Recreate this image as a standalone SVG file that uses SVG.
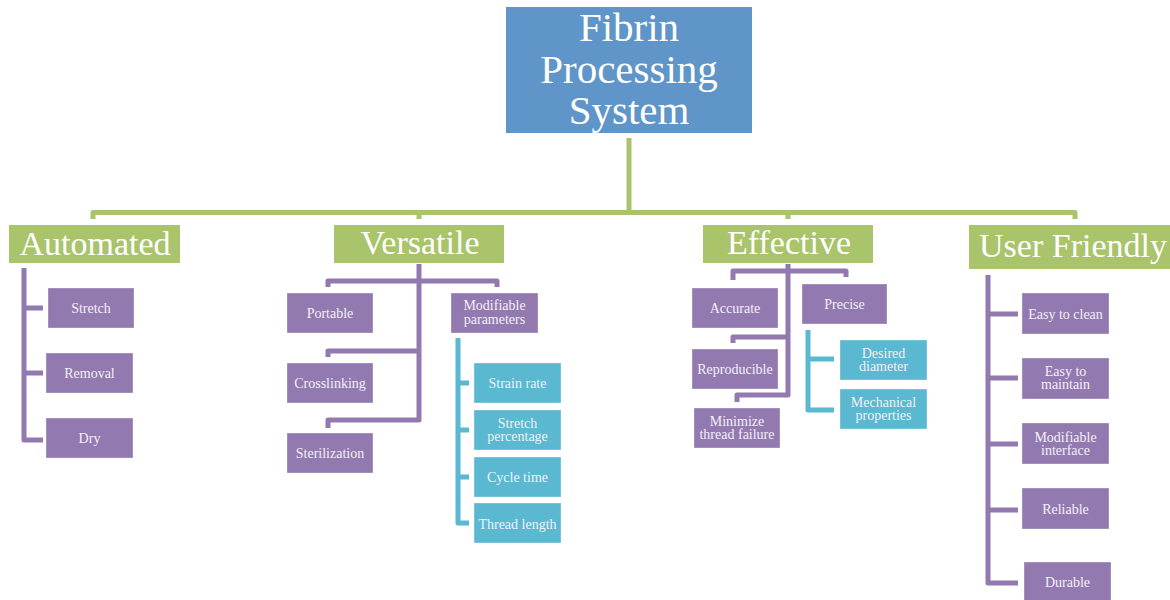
<svg xmlns="http://www.w3.org/2000/svg" width="1170" height="600" viewBox="0 0 1170 600">
<style>
text{font-family:"Liberation Serif","Times New Roman",serif;fill:#ffffff;text-anchor:middle}
.root{fill:#5f95c8}
.hdr{fill:#a9c46b}
.pur{fill:#9279b0;stroke:#ffffff;stroke-opacity:0.35;stroke-width:1}
.cy{fill:#5bb8d1;stroke:#ffffff;stroke-opacity:0.35;stroke-width:1}
.t1{font-size:41px}
.t2{font-size:34px}
.t3{font-size:14px;fill:#f3f0f7}
.cg{fill:none;stroke:#a9c46b;stroke-width:5;stroke-linejoin:round}
.cp{fill:none;stroke:#9279b0;stroke-width:5;stroke-linejoin:round}
.cc{fill:none;stroke:#5bb8d1;stroke-width:5;stroke-linejoin:round}
</style>
<g id="connectors">
<path class="cg" d="M629 138V212.5M93 219V212.5H1075V219M419 212.5V219M788 212.5V219"/>
<path class="cp" d="M24 268V440H43M24 308H43M24 373H43"/>
<path class="cp" d="M328 287V281H497V287M419 264V420H328V428M419 351H328V357"/>
<path class="cc" d="M458 338V523H469M458 383H469M458 430H469M458 477H469"/>
<path class="cp" d="M733 280V271H846V277M788 264V395H737V402M788 337H733V343"/>
<path class="cc" d="M808 330V410H834M808 359H834"/>
<path class="cp" d="M988 275V583H1018M988 314H1018M988 378H1018M988 444H1018M988 510H1018"/>
</g>
<g id="root"><rect class="root" x="506" y="7" width="246" height="126"/>
<text class="t1" x="629" y="41">Fibrin</text><text class="t1" x="629" y="83">Processing</text><text class="t1" x="629" y="124">System</text></g>
<g id="automated"><rect class="hdr" x="9" y="225" width="171" height="38"/><text class="t2" x="95" y="255">Automated</text></g>
<g id="stretch"><rect class="pur" x="48" y="288" width="86" height="40"/><text class="t3" x="91" y="313">Stretch</text></g>
<g id="removal"><rect class="pur" x="46" y="353" width="87" height="40"/><text class="t3" x="89.5" y="378">Removal</text></g>
<g id="dry"><rect class="pur" x="46" y="418" width="87" height="40"/><text class="t3" x="89.5" y="443">Dry</text></g>
<g id="versatile"><rect class="hdr" x="334" y="225" width="170" height="38"/><text class="t2" x="420" y="254">Versatile</text></g>
<g id="portable"><rect class="pur" x="287" y="293" width="86" height="40"/><text class="t3" x="330" y="318">Portable</text></g>
<g id="crosslinking"><rect class="pur" x="287" y="363" width="86" height="40"/><text class="t3" x="330" y="388">Crosslinking</text></g>
<g id="sterilization"><rect class="pur" x="287" y="433" width="86" height="40"/><text class="t3" x="330" y="458">Sterilization</text></g>
<g id="modparams"><rect class="pur" x="451" y="293" width="87" height="40"/><text class="t3" x="494.5" y="310">Modifiable</text><text class="t3" x="494.5" y="323.5">parameters</text></g>
<g id="strainrate"><rect class="cy" x="474" y="363" width="87" height="40"/><text class="t3" x="517.5" y="388">Strain rate</text></g>
<g id="stretchpct"><rect class="cy" x="474" y="410" width="87" height="40"/><text class="t3" x="517.5" y="427.5">Stretch</text><text class="t3" x="517.5" y="441">percentage</text></g>
<g id="cycletime"><rect class="cy" x="474" y="457" width="87" height="40"/><text class="t3" x="517.5" y="482">Cycle time</text></g>
<g id="threadlength"><rect class="cy" x="474" y="503" width="87" height="40"/><text class="t3" x="517.5" y="529">Thread length</text></g>
<g id="effective"><rect class="hdr" x="703" y="225" width="170" height="38"/><text class="t2" x="789" y="254">Effective</text></g>
<g id="accurate"><rect class="pur" x="692" y="288" width="86" height="40"/><text class="t3" x="735" y="313">Accurate</text></g>
<g id="precise"><rect class="pur" x="802" y="284" width="85" height="40"/><text class="t3" x="844.5" y="309">Precise</text></g>
<g id="reproducible"><rect class="pur" x="692" y="349" width="86" height="40"/><text class="t3" x="735" y="374">Reproducible</text></g>
<g id="minimize"><rect class="pur" x="694" y="408" width="86" height="40"/><text class="t3" x="737" y="425.5">Minimize</text><text class="t3" x="737" y="439">thread failure</text></g>
<g id="diameter"><rect class="cy" x="840" y="340" width="87" height="40"/><text class="t3" x="883.5" y="357.5">Desired</text><text class="t3" x="883.5" y="371">diameter</text></g>
<g id="mechanical"><rect class="cy" x="840" y="389" width="87" height="40"/><text class="t3" x="883.5" y="406.5">Mechanical</text><text class="t3" x="883.5" y="420">properties</text></g>
<g id="userfriendly"><rect class="hdr" x="969" y="225" width="201" height="44"/><text class="t2" x="1073" y="257">User Friendly</text></g>
<g id="easyclean"><rect class="pur" x="1022" y="293" width="87" height="41"/><text class="t3" x="1065.5" y="319">Easy to clean</text></g>
<g id="easymaintain"><rect class="pur" x="1022" y="358" width="87" height="41"/><text class="t3" x="1065.5" y="375.5">Easy to</text><text class="t3" x="1065.5" y="389">maintain</text></g>
<g id="modinterface"><rect class="pur" x="1022" y="423" width="87" height="41"/><text class="t3" x="1065.5" y="441.5">Modifiable</text><text class="t3" x="1065.5" y="455">interface</text></g>
<g id="reliable"><rect class="pur" x="1022" y="488" width="87" height="41"/><text class="t3" x="1065.5" y="514">Reliable</text></g>
<g id="durable"><rect class="pur" x="1024" y="562" width="87" height="41"/><text class="t3" x="1067.5" y="587">Durable</text></g>
</svg>
